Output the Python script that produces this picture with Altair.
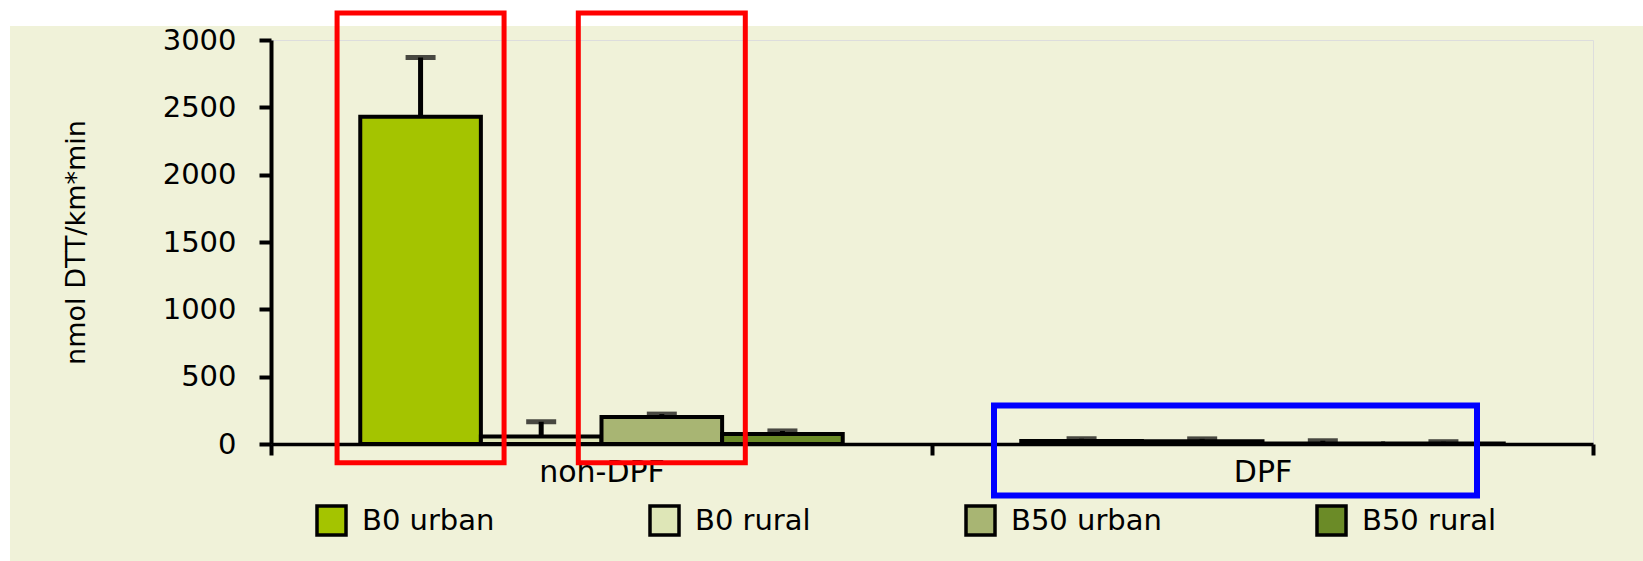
import altair as alt
import pandas as pd

# Categories and series
groups = ["non-DPF", "DPF"]
series = ["B0 urban", "B0 rural", "B50 urban", "B50 rural"]
colors = ["#a4c400", "#dee6b7", "#a8b573", "#6b8b27"]

# Mean oxidative potential (nmol DTT/km*min), in series order
non_dpf_values = [2430, 55, 200, 75]
dpf_values = [22, 20, 4, 3]

# Upper error (one-sided)
non_dpf_errors = [440, 110, 22, 22]
dpf_errors = [17, 18, 20, 14]

# Highlight frames (data units on the y scale)
red_groups = ["non-DPF", "non-DPF"]
red_series = ["B0 urban", "B50 urban"]
red_top = [3200, 3200]
red_bottom = [-140, -140]
blue_groups = ["DPF"]
blue_top = [286]
blue_bottom = [-382]

y_title = "nmol DTT/km*min"
font = "DejaVu Sans"
beige = "#f0f2d9"

rows = []
for g, vals, errs in [("non-DPF", non_dpf_values, non_dpf_errors),
                      ("DPF", dpf_values, dpf_errors)]:
    for s, v, e in zip(series, vals, errs):
        rows.append({"group": g, "series": s, "value": v, "upper": v + e})
df = pd.DataFrame(rows)

red_df = pd.DataFrame({"group": red_groups, "series": red_series,
                       "top": red_top, "bottom": red_bottom})
blue_df = pd.DataFrame({"group": blue_groups, "top": blue_top, "bottom": blue_bottom})
one = pd.DataFrame({"k": [0]})

x_enc = alt.X(
    "group:N",
    sort=groups,
    scale=alt.Scale(domain=groups, paddingInner=0, paddingOuter=0),
    axis=alt.Axis(
        title=None, labelAngle=0, labelFontSize=30, labelFont=font,
        labelColor="black", tickSize=11, tickWidth=4, tickColor="black",
        domainWidth=3.5, domainColor="black", labelPadding=2,
        tickBand="extent", grid=False,
    ),
)
xo_enc = alt.XOffset(
    "series:N", sort=series,
    scale=alt.Scale(domain=series, paddingInner=0, paddingOuter=0.74),
)
y_axis = alt.Axis(
    values=[0, 500, 1000, 1500, 2000, 2500, 3000], format="d",
    labelFontSize=29, labelFont=font, labelColor="black",
    tickSize=12, tickWidth=4, tickColor="black",
    domainColor="black", domainWidth=4, labelPadding=23,
    titleFontSize=27, titleFont=font, titleFontWeight="normal",
    titleColor="black", titlePadding=72, grid=False,
)
y_scale = alt.Scale(domain=[0, 3000], nice=False)

# page margins outside the beige panel
left_strip = alt.Chart(one).mark_rect(color="white").encode(
    x=alt.value(-271), x2=alt.value(-261), y=alt.value(-40), y2=alt.value(521)
)
top_strip = alt.Chart(one).mark_rect(color="white").encode(
    x=alt.value(-271), x2=alt.value(1372), y=alt.value(-40), y2=alt.value(-14)
)

bars = alt.Chart(df).mark_bar(stroke="black", strokeWidth=4).encode(
    x=x_enc,
    xOffset=xo_enc,
    y=alt.Y("value:Q", scale=y_scale, axis=y_axis, title=y_title),
    color=alt.Color(
        "series:N",
        sort=series,
        scale=alt.Scale(domain=series, range=colors),
        legend=alt.Legend(
            title=None, orient="none", legendX=44, legendY=464,
            direction="horizontal", columns=4, gridAlign="each",
            columnPadding=148, symbolType="square", symbolSize=841,
            symbolStrokeColor="black", symbolStrokeWidth=3.5,
            symbolOpacity=1, labelFontSize=29, labelFont=font,
            labelColor="black", labelOffset=14, padding=0,
        ),
    ),
)

err_rules = alt.Chart(df).mark_rule(color="black", strokeWidth=5).encode(
    x=x_enc, xOffset=xo_enc,
    y=alt.Y("value:Q", scale=y_scale, title=y_title),
    y2="upper:Q",
)
err_caps = alt.Chart(df).mark_tick(color="black", thickness=5, size=30).encode(
    x=x_enc, xOffset=xo_enc,
    y=alt.Y("upper:Q", scale=y_scale, title=y_title),
)

red_frames = alt.Chart(red_df).mark_bar(
    width=167, filled=False, fill="transparent",
    stroke="#ff0000", strokeWidth=5,
).encode(
    x=x_enc, xOffset=xo_enc,
    y=alt.Y("top:Q", scale=y_scale, title=y_title),
    y2="bottom:Q",
)
blue_frame = alt.Chart(blue_df).mark_bar(
    width=483, xOffset=-27, filled=False, fill="transparent",
    stroke="#0000ff", strokeWidth=6,
).encode(
    x=x_enc,
    y=alt.Y("top:Q", scale=y_scale, title=y_title),
    y2="bottom:Q",
)

chart = alt.layer(
    left_strip, top_strip, bars, err_rules, err_caps, red_frames, blue_frame
).properties(
    width=1322,
    height=404,
    autosize=alt.AutoSizeParams(type="none"),
    padding={"left": 271, "top": 40, "right": 50, "bottom": 117},
    background=beige,
).configure_view(
    fill="white", stroke="transparent", strokeWidth=0
).configure(
    font=font
)

chart.save("out.html", embed_options={"renderer": "svg", "actions": False})
